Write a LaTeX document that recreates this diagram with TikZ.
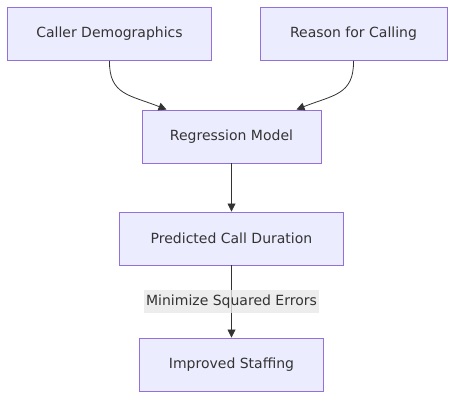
\documentclass[tikz,border=0pt]{standalone}
\usepackage{fontspec}
\setmainfont{DejaVu Sans}
\usetikzlibrary{arrows.meta}
\definecolor{boxfill}{HTML}{ECECFF}
\definecolor{boxline}{HTML}{9370DB}
\definecolor{ink}{HTML}{333333}
\definecolor{labbg}{HTML}{E8E8E8}
\tikzset{
  stepbox/.style={draw=boxline, line width=0.9pt, fill=boxfill, text=ink,
    minimum height=53, inner sep=0pt, font=\fontsize{14}{17}\selectfont},
  edge/.style={draw=ink, line width=0.8pt, -{Triangle[length=8pt,width=8pt]}},
  elab/.style={fill=labbg, fill opacity=0.8, text opacity=1, text=ink,
    inner sep=2pt, minimum height=23, minimum width=170,
    font=\fontsize{14}{17}\selectfont}
}
\begin{document}
\begin{tikzpicture}[x=1pt,y=-1pt]
  \useasboundingbox (0,0) rectangle (462,406);

  % input boxes
  \node[stepbox, minimum width=204] (demo) at (109.5,34) {Caller Demographics};
  \node[stepbox, minimum width=187] (reason) at (353.5,34) {Reason for Calling};

  % model and outputs
  \node[stepbox, minimum width=179] (model) at (231.5,136.5) {Regression Model};
  \node[stepbox, minimum width=224] (pred) at (231.5,238.5) {Predicted Call Duration};
  \node[stepbox, minimum width=184] (staff) at (231.5,364.5) {Improved Staffing};

  % connectors
  \draw[edge] (demo.south) .. controls (109,95) and (130,95) .. ([xshift=-65]model.north);
  \draw[edge] (reason.south) .. controls (354,95) and (333,95) .. ([xshift=65]model.north);
  \draw[edge] (model) -- (pred);
  \draw[edge] (pred) -- node[elab] (err) {Minimize Squared Errors} (staff);
\end{tikzpicture}
\end{document}
